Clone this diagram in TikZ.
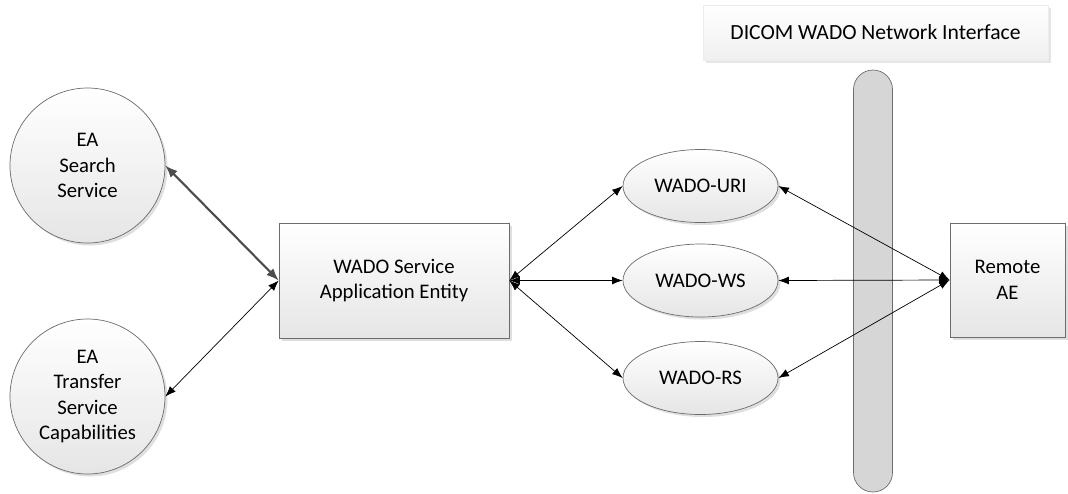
\documentclass[tikz,border=0pt]{standalone}
\usepackage{fontspec}
\setmainfont{Carlito}
\usetikzlibrary{arrows.meta}
\usetikzlibrary{shapes.geometric}
\usetikzlibrary{shadows}

\tikzset{
    every node/.style={font=\fontsize{11.8}{14.5}\selectfont, align=center, inner sep=0pt},
    shade box/.style={draw=gray!85!black, top color=white, bottom color=gray!20,
        drop shadow={opacity=0.25, shadow xshift=0.05cm, shadow yshift=-0.05cm}},
    service/.style={shade box, circle, minimum size=3.1cm},
    entity/.style={shade box, rectangle, minimum width=4.6cm, minimum height=2.3cm},
    profile/.style={shade box, ellipse, minimum width=3.1cm, minimum height=1.46cm},
    link/.style={<->, thin},
}

\begin{document}
\begin{tikzpicture}[>={Latex[length=6pt,width=4.5pt]}]
        \def\picW{21.36}
        \def\picH{9.86}
        \useasboundingbox (0,0) rectangle (\picW,-\picH);

        \node[service] (search) at (1.75,-3.31) {EA\\Search\\Service};
        \node[service] (transfer) at (1.75,-7.93) {EA\\Transfer\\Service\\Capabilities};
        \node[entity] (wado) at (7.88,-5.61) {WADO Service\\Application Entity};

        \node[profile] (uri) at (14.01,-3.72) {WADO-URI};
        \node[profile] (ws) at (14.01,-5.61) {WADO-WS};
        \node[profile] (rs) at (14.01,-7.56) {WADO-RS};

        \node[draw=gray!85!black, fill=gray!32, rounded corners=0.39cm, minimum width=0.78cm,
            minimum height=8.44cm] (net) at (17.46,-5.62) {};
        \node[draw=gray!15, top color=white, bottom color=gray!12, minimum width=6.9cm, minimum height=1.1cm,
            font=\fontsize{12.3}{14.5}\selectfont,
            drop shadow={opacity=0.2, shadow xshift=0.06cm, shadow yshift=-0.06cm}] (netlabel) at (17.51,-0.65) {DICOM WADO Network Interface};

        \node[entity, minimum width=2.3cm, minimum height=2.28cm] (remote) at (20.15,-5.6) {Remote\\AE};

        \draw[link, very thick, black!70, >={Latex[length=7pt,width=5.5pt]}] (search.east) -- (wado.west);
        \draw[link] (transfer.east) -- (wado.west);

        \draw[link] (wado.east) -- (uri.west);
        \draw[link] (wado.east) -- (ws.west);
        \draw[link] (wado.east) -- (rs.west);

        \draw[link] (remote.west) -- (uri.east);
        \draw[link] (remote.west) -- (ws.east);
        \draw[link] (remote.west) -- (rs.east);

    \end{tikzpicture}
\end{document}
